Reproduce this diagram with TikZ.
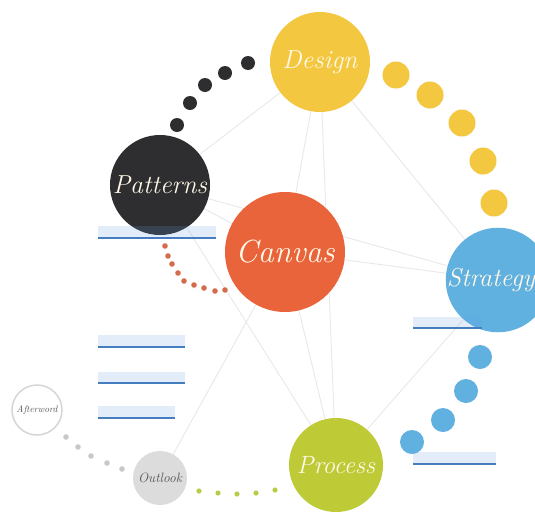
\documentclass[tikz,border=0pt]{standalone}
\usepackage{xcolor}
\usetikzlibrary{backgrounds}

\definecolor{designyellow}{RGB}{243,200,64}
\definecolor{patternsdark}{RGB}{46,46,48}
\definecolor{canvasorange}{RGB}{233,100,58}
\definecolor{strategyblue}{RGB}{96,176,224}
\definecolor{processgreen}{RGB}{190,203,54}
\definecolor{outlookgray}{RGB}{220,220,220}
\definecolor{ringgray}{RGB}{214,214,214}
\definecolor{edgegray}{RGB}{232,232,232}
\definecolor{cream}{RGB}{255,248,232}
\definecolor{inkgray}{RGB}{85,85,85}
\definecolor{dotorange}{RGB}{214,106,76}
\definecolor{dotgreen}{RGB}{184,204,72}
\definecolor{dotgray}{RGB}{200,200,200}
\definecolor{tabblue}{RGB}{100,160,230}
\definecolor{tabline}{RGB}{70,125,192}

\newcommand{\topicsize}[1]{\fontsize{#1}{#1}\selectfont}

\tikzset{
  topic/.style={circle, inner sep=0pt, text=cream},
  edge/.style={draw=edgegray, line width=0.9pt},
  tab/.style={fill=tabblue, fill opacity=0.18},
  tabrule/.style={draw=tabline, line width=1.2pt}
}

\begin{document}
\begin{tikzpicture}[x=1pt,y=-1pt]
    \useasboundingbox (0,0) rectangle (535,517);

    % Topics
    \node[topic, fill=designyellow, minimum size=100pt, font={\topicsize{26}\itshape}] (design) at (320,62) {Design};
    \node[topic, fill=patternsdark, minimum size=100pt, font={\topicsize{26}\itshape}] (patterns) at (160,185) {Patterns};
    \node[topic, fill=canvasorange, minimum size=120pt, font={\topicsize{32}\itshape}] (canvas) at (285,252) {Canvas};
    \node[topic, fill=strategyblue, minimum size=100pt, font={\topicsize{26}\itshape}] (strategy) at (498,280) {Strategy\hspace*{14pt}};
    \node[topic, fill=processgreen, minimum size=94pt, font={\topicsize{25}\itshape}] (process) at (336,465) {Process};
    \node[topic, fill=outlookgray, minimum size=54pt, text=inkgray, font={\topicsize{13.5}\itshape}] (outlook) at (160,478) {Outlook};
    \node[topic, fill=white, draw=ringgray, line width=1.5pt, minimum size=50pt, text=inkgray, font={\topicsize{9.5}\itshape}] (afterword) at (37,410) {Afterword};

    % Links between topics
    \begin{scope}[on background layer]
        \fill[white] (0,0) rectangle (535,517);
        \draw[edge] (design) -- (patterns);
        \draw[edge] (design) -- (canvas);
        \draw[edge] (design) -- (strategy);
        \draw[edge] (design) -- (process);
        \draw[edge] (patterns) -- (canvas);
        \draw[edge] (patterns) -- (strategy);
        \draw[edge] (patterns) -- (process);
        \draw[edge] (canvas) -- (strategy);
        \draw[edge] (canvas) -- (process);
        \draw[edge] (canvas) -- (outlook);
        \draw[edge] (strategy) -- (process);
    \end{scope}

    % Dotted trails
    \foreach \p in {(177,125),(190,103),(205,85),(225,73),(248,63)}
        \fill[patternsdark] \p circle (7pt);
    \foreach \p in {(396,75),(430,95),(462,123),(483,161),(494,203)}
        \fill[designyellow] \p circle (13.5pt);
    \foreach \p in {(480,357),(466,391),(443,420),(412,442)}
        \fill[strategyblue] \p circle (12pt);
    \foreach \p in {(165,246),(168,256),(172,264),(178,273),(184,281),(194,285),(204,288),(215,291),(225,290)}
        \fill[dotorange] \p circle (2.8pt);
    \foreach \p in {(199,491),(218,493),(237,494),(256,493),(275,490)}
        \fill[dotgreen] \p circle (2.6pt);
    \foreach \p in {(66,437),(78,447),(91,456),(107,463),(122,469)}
        \fill[dotgray] \p circle (2.8pt);

    % Link tabs
    \foreach \xa/\xb/\ya/\yb in {98/216/226/238, 98/185/335/347, 98/185/372/383, 98/175/406/418, 413/482/317/328, 413/496/452/464} {
        \fill[tab] (\xa,\ya) rectangle (\xb,\yb);
        \draw[tabrule] (\xa,\yb) -- (\xb,\yb);
    }
\end{tikzpicture}
\end{document}
